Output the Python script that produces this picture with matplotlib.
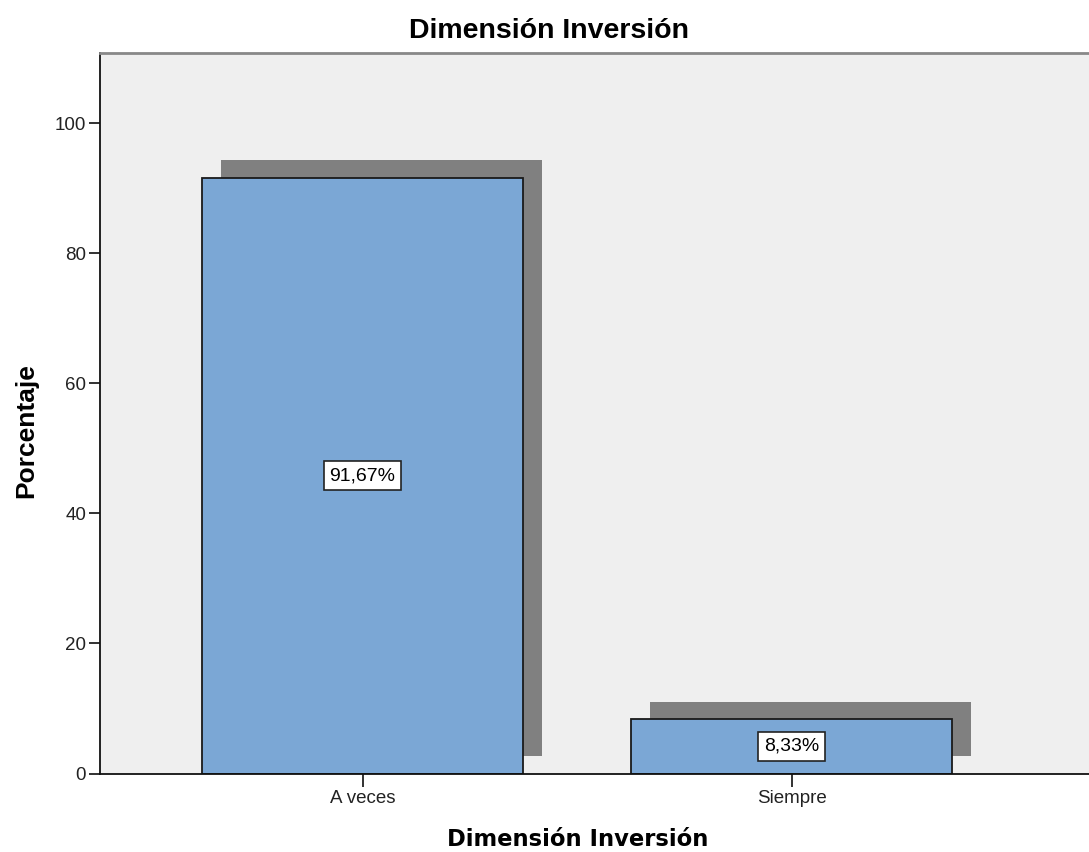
import numpy as np
import matplotlib
matplotlib.use("Agg")
import matplotlib.pyplot as plt

# datos
categorias = ["A veces", "Siempre"]
porcentajes = [91.67, 8.33]
etiquetas = ["91,67%", "8,33%"]
yticks = [0, 20, 40, 60, 80, 100]

titulo = "Dimensión Inversión"
xlabel = "Dimensión Inversión"
ylabel = "Porcentaje"

fig = plt.figure(figsize=(10.89, 8.52), dpi=100)
ax = fig.add_axes([100 / 1089, (852 - 773.5) / 852, 989 / 1089, 721 / 852])
ax.set_facecolor("#efefef")

x = np.arange(len(categorias))
ancho = 0.748
# sombra desplazada (estilo SPSS)
dx, dy = 0.043, 2.7
ax.bar(x + dx, porcentajes, width=ancho, bottom=dy, color="#808080",
       edgecolor="none", zorder=1)
ax.bar(x, porcentajes, width=ancho, color="#7ba7d5", edgecolor="#1a1a1a",
       linewidth=1.3, zorder=2)

for xi, v, lab in zip(x, porcentajes, etiquetas):
    ax.text(xi, v / 2, lab, ha="center", va="center", fontsize=14,
            family="Liberation Sans", zorder=3,
            bbox=dict(boxstyle="square,pad=0.3", facecolor="white",
                      edgecolor="#222222", linewidth=1.2))

ax.set_xlim(-0.612, 1.693)
ax.set_ylim(0, 110.9)
ax.set_xticks(x)
ax.set_xticklabels(categorias, family="Liberation Sans", fontsize=13.5, color="#222222")
ax.set_yticks(yticks)
ax.set_yticklabels([str(t) for t in yticks], family="Liberation Sans",
                   fontsize=13.5, color="#222222")
ax.tick_params(axis="y", length=8, width=1.3, color="#222222", pad=2)
ax.tick_params(axis="x", length=9, width=1.3, color="#222222", pad=3)

ax.spines["right"].set_visible(False)
ax.spines["top"].set_color("#888888")
ax.spines["top"].set_linewidth(2)
for s in ["left", "bottom"]:
    ax.spines[s].set_color("#111111")
    ax.spines[s].set_linewidth(1.3)

fig.text(549 / 1089, 1 - 31 / 852, titulo, ha="center", va="center",
         fontsize=20.5, fontweight="bold", family="Liberation Sans")
fig.text(578 / 1089, 1 - 840 / 852, xlabel, ha="center", va="center",
         fontsize=16.3, fontweight="bold", family="DejaVu Sans")
fig.text(26 / 1089, 1 - 431 / 852, ylabel, ha="center", va="center",
         rotation=90, fontsize=19, fontweight="bold", family="Liberation Sans")

fig.savefig("out.png", dpi=100)
